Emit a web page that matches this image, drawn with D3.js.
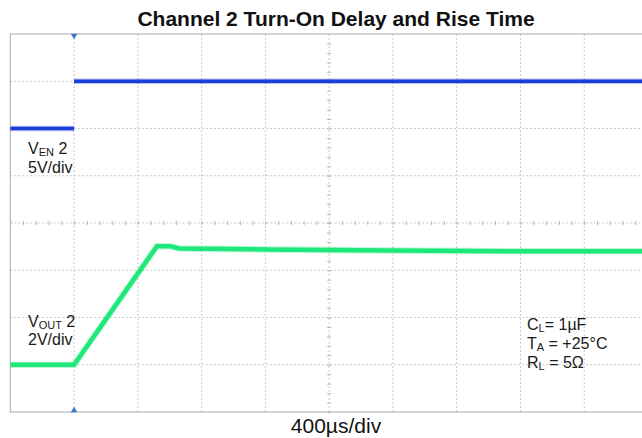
<!DOCTYPE html>
<html>
<head>
<meta charset="utf-8">
<script src="https://cdn.jsdelivr.net/npm/d3@7"></script>
<style>
  body { margin: 0; background: #fff; }
  svg { display: block; font-family: "Liberation Sans", Arial, sans-serif; }
</style>
</head>
<body>
<div class="visholder"></div>
<script>
let width = 642,
    height = 438;

// scope settings
const timePerDiv = 400;          // µs per division
const enVoltsPerDiv = 5;
const outVoltsPerDiv = 2;
const enOffsetDiv = 6;           // ground position of V_EN (divisions from bottom)
const outOffsetDiv = 1;          // ground position of V_OUT

// V_EN 2 trace (time in µs, volts); null = no sample drawn on the fast edge
const enTime = [-400, 0, 0, 0, 3600];
const enVolts = [0, 0, null, 5, 5];

// V_OUT 2 trace (time in µs, volts)
const outTime = [-400, 0, 520, 600, 660, 1200, 2000, 2800, 3600];
const outVolts = [0, 0, 5.02, 5.02, 4.92, 4.88, 4.84, 4.8, 4.8];

const timeDivs = d3.range(-400, 3601, 400);
const voltDivs = d3.range(0, 9, 1);

const enLabel = [["V", "EN", " 2"], ["5V/div"]];
const outLabel = [["V", "OUT", " 2"], ["2V/div"]];
const condLabels = [["C", "L", "= 1µF"], ["T", "A", " = +25°C"], ["R", "L", " = 5Ω"]];

var svg = d3.select(".visholder")
    .append("svg")
    .attr("width", width)
    .attr("height", height);

var x = d3.scaleLinear().domain([-400, 3600]).range([10.3, 648]);
var y = d3.scaleLinear().domain([0, 8]).range([412, 34]);

svg.append("defs").append("clipPath")
    .attr("id", "plot-clip")
    .append("rect")
    .attr("x", x(-400)).attr("y", y(8))
    .attr("width", x(3600) - x(-400)).attr("height", y(0) - y(8));

// grid
var grid = svg.append("g").attr("class", "grid");
grid.selectAll(".vgrid")
    .data(timeDivs.slice(1, -1))
    .enter()
    .append("line")
    .attr("x1", d => x(d)).attr("x2", d => x(d))
    .attr("y1", y(0)).attr("y2", y(8))
    .attr("stroke", "#c8c8c8")
    .attr("stroke-dasharray", "2,2");
grid.selectAll(".hgrid")
    .data(voltDivs.slice(1, -1))
    .enter()
    .append("line")
    .attr("x1", x(-400)).attr("x2", x(3600))
    .attr("y1", d => y(d)).attr("y2", d => y(d))
    .attr("stroke", "#c8c8c8")
    .attr("stroke-dasharray", "2,2");

// minor ticks on the centre axes
var xCenter = d3.axisBottom(x)
    .tickValues(d3.range(-400, 3600, 80))
    .tickSize(4).tickFormat("");
svg.append("g")
    .attr("transform", `translate(0, ${y(4) - 2})`)
    .call(xCenter)
    .call(g => g.select(".domain").remove())
    .selectAll("line").attr("stroke", "#b8b8b8");

var yCenter = d3.axisRight(y)
    .tickValues(d3.range(0, 8, 0.2))
    .tickSize(4).tickFormat("");
svg.append("g")
    .attr("transform", `translate(${x(1600) - 2}, 0)`)
    .call(yCenter)
    .call(g => g.select(".domain").remove())
    .selectAll("line").attr("stroke", "#b8b8b8");

// frame
svg.append("rect")
    .attr("x", x(-400)).attr("y", y(8))
    .attr("width", x(3600) - x(-400)).attr("height", y(0) - y(8))
    .attr("fill", "none")
    .attr("stroke", "#aaaaaa");

// traces
var plot = svg.append("g").attr("clip-path", "url(#plot-clip)");

var enLine = d3.line()
    .defined(d => d !== null)
    .x((d, i) => x(enTime[i]))
    .y(d => y(d / enVoltsPerDiv + enOffsetDiv));
var outLine = d3.line()
    .x((d, i) => x(outTime[i]))
    .y(d => y(d / outVoltsPerDiv + outOffsetDiv));

[[enVolts, enLine, "#1a3ddc", 3.5], [outVolts, outLine, "#1ee87a", 4.5]].forEach(function (t) {
    plot.append("path")
        .attr("d", t[1](t[0]))
        .attr("fill", "none")
        .attr("stroke", t[2])
        .attr("stroke-opacity", 0.3)
        .attr("stroke-width", t[3] + 2);
    plot.append("path")
        .attr("d", t[1](t[0]))
        .attr("fill", "none")
        .attr("stroke", t[2])
        .attr("stroke-width", t[3]);
});

// trigger markers
svg.append("path")
    .attr("d", d3.symbol(d3.symbolTriangle, 18)())
    .attr("transform", `translate(${x(0)}, ${y(8) + 1.5}) rotate(180)`)
    .attr("fill", "#3a78d0");
svg.append("path")
    .attr("d", d3.symbol(d3.symbolTriangle, 18)())
    .attr("transform", `translate(${x(0)}, ${y(0) - 1.5})`)
    .attr("fill", "#3a78d0");

// labels
function label(lines, lx, ly, step) {
    var t = svg.append("text")
        .attr("x", lx).attr("y", ly)
        .attr("font-size", 16)
        .attr("fill", "#1a1a1a");
    lines.forEach(function (parts, i) {
        t.append("tspan")
            .attr("x", lx)
            .attr("y", ly + i * step)
            .text(parts[0]);
        if (parts.length > 1) {
            t.append("tspan")
                .attr("font-size", 11)
                .attr("dy", 2)
                .text(parts[1]);
            t.append("tspan")
                .attr("dy", -2)
                .text(parts[2]);
        }
    });
}
label(enLabel, 28, 154, 19);
label(outLabel, 28, 327, 18);
label(condLabels, 527, 330, 19);

svg.append("text")
    .attr("x", 336).attr("y", 26)
    .attr("text-anchor", "middle")
    .attr("font-size", 21)
    .attr("font-weight", "bold")
    .attr("fill", "#111")
    .text("Channel 2 Turn-On Delay and Rise Time");

svg.append("text")
    .attr("x", 336).attr("y", 433)
    .attr("text-anchor", "middle")
    .attr("font-size", 21)
    .attr("fill", "#111")
    .text("400µs/div");
</script>
</body>
</html>
